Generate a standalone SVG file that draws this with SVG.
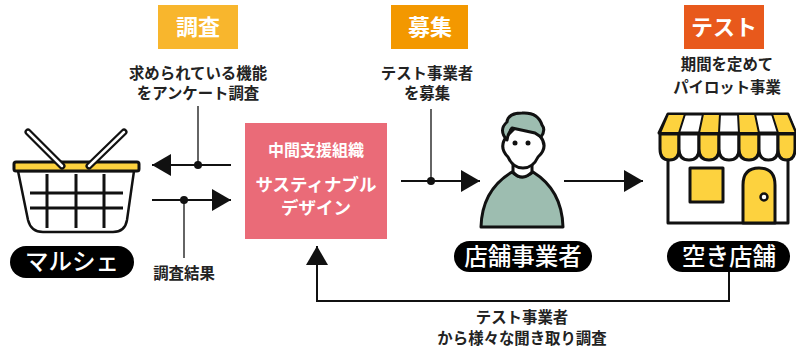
<svg xmlns="http://www.w3.org/2000/svg" width="796" height="350" viewBox="0 0 796 350">
<style>
text{font-family:"Noto Sans CJK JP","Noto Sans",sans-serif;text-anchor:middle}
.t{font-size:15.4px;font-weight:700;fill:#222}
.h{font-size:22px;font-weight:700;fill:#fff}
.p{font-size:23.5px;font-weight:500;fill:#fff}
.w{font-size:16px;font-weight:700;fill:#fff}
.d{font-size:17.5px;font-weight:700;fill:#fff}
.l{fill:none;stroke:#111;stroke-width:2}
.k{fill:none;stroke:#111;stroke-width:1.3}
.o{stroke:#111;stroke-width:3;stroke-linejoin:round}
</style>
<defs><marker id="a" markerUnits="userSpaceOnUse" markerWidth="20" markerHeight="22" refX="19" refY="11" orient="auto-start-reverse"><path d="M0 0L19 11L0 22Z" fill="#111"/></marker></defs>
<rect width="796" height="350" fill="#fff"/>
<g id="connectors">
<path class="l" d="M231 165H152" marker-end="url(#a)"/>
<path class="k" d="M198 106V165"/><circle cx="198" cy="165" r="4" fill="#111"/>
<path class="l" d="M152 200H231" marker-end="url(#a)"/>
<path class="k" d="M184 200V258"/><circle cx="184" cy="200" r="4" fill="#111"/>
<path class="l" d="M401 181H480" marker-end="url(#a)"/>
<path class="k" d="M431 109V181"/><circle cx="431" cy="181" r="4" fill="#111"/>
<path class="l" d="M564 181H643" marker-end="url(#a)"/>
<path class="l" d="M729 272V301H317V246" marker-end="url(#a)"/>
</g>
<g id="chosa"><rect x="158" y="5" width="80" height="44" fill="#f8b62d"/><text class="h" x="198" y="35">調査</text></g>
<g id="boshu"><rect x="391" y="5" width="77" height="44" fill="#f39800"/><text class="h" x="430" y="35">募集</text></g>
<g id="test"><rect x="684" y="5" width="80" height="44" fill="#e8591c"/><text class="h" x="724" y="35">テスト</text></g>
<g id="label-chosa"><text class="t" x="198" y="79">求められている機能</text><text class="t" x="198" y="99">をアンケート調査</text></g>
<g id="label-boshu"><text class="t" x="427" y="79">テスト事業者</text><text class="t" x="427" y="99">を募集</text></g>
<g id="label-test"><text class="t" x="727" y="70">期間を定めて</text><text class="t" x="727" y="93">パイロット事業</text></g>
<g id="label-kekka"><text class="t" x="184" y="279">調査結果</text></g>
<g id="label-kikitori"><text class="t" x="522" y="323">テスト事業者</text><text class="t" x="522" y="344">から様々な聞き取り調査</text></g>
<g id="support"><rect x="245" y="123" width="142" height="116" fill="#ea6b78"/><text class="w" x="316" y="156">中間支援組織</text><text class="d" x="316" y="191">サスティナブル</text><text class="d" x="316" y="214">デザイン</text></g>
<g id="marche">
<path d="M18 171L28 220Q31 232 43 232H113Q125 232 127 220L134 171Z" fill="#fff" stroke="#111" stroke-width="2.5"/>
<path d="M47 174V228M76 174V228M104 174V228M30 193H123M30 208H123" stroke="#111" stroke-width="3" fill="none"/>
<rect x="14" y="162" width="125" height="9" rx="2" fill="#fdd23e" class="o"/>
<path d="M28 132L62 166" stroke="#111" stroke-width="7" stroke-linecap="round"/><path d="M28 132L62 166" stroke="#fff" stroke-width="2.5" stroke-linecap="round"/>
<path d="M124 132L89 166" stroke="#111" stroke-width="7" stroke-linecap="round"/><path d="M124 132L89 166" stroke="#fff" stroke-width="2.5" stroke-linecap="round"/>
<rect x="10" y="246" width="124" height="32" rx="16" fill="#000"/><text class="p" x="72" y="270">マルシェ</text>
</g>
<g id="owner">
<path d="M481 227Q482 190 512 172Q522 182 533 172Q562 190 563 227Z" fill="#9dbdb0" class="o"/>
<path d="M513 164V172Q522 182 532 172V164Z" fill="#fff" class="o"/>
<path d="M507 136Q498 147 508 157Q513 168 523 168Q533 168 538 157Q549 147 540 136L523 120Z" fill="#fff" class="o"/>
<path d="M507 140Q498 130 507 122Q508 113 522 113Q538 112 542 125Q546 130 541 137L535 133L512 128Q508 133 507 140Z" fill="#9dbdb0" class="o"/>
<circle cx="515" cy="143" r="2.5" fill="#111"/><circle cx="528" cy="143" r="2.5" fill="#111"/>
<rect x="454" y="241" width="138" height="31" rx="15.5" fill="#000"/><text class="p" x="523" y="265">店舗事業者</text>
</g>
<g id="shop">
<rect x="668" y="150" width="120" height="73" fill="#fff" class="o"/>
<path d="M668 114H788L796 133H659Z" fill="#fff" class="o"/>
<path d="M668 114H685L679 133H660ZM703 114H720L719 133H699ZM738 114H755L759 133H739ZM772 114H788L796 133H778Z" fill="#fdd23e" stroke="#111" stroke-width="2"/>
<path d="M660 134V149Q660 160 669.500 160Q679 160 679 149V134Z" fill="#fdd23e" class="o"/>
<path d="M679 134V149Q679 160 689 160Q699 160 699 149V134Z" fill="#fff" class="o"/>
<path d="M699 134V149Q699 160 709 160Q719 160 719 149V134Z" fill="#fdd23e" class="o"/>
<path d="M719 134V149Q719 160 729 160Q739 160 739 149V134Z" fill="#fff" class="o"/>
<path d="M739 134V149Q739 160 749 160Q759 160 759 149V134Z" fill="#fdd23e" class="o"/>
<path d="M759 134V149Q759 160 768.500 160Q778 160 778 149V134Z" fill="#fff" class="o"/>
<path d="M778 134V149Q778 160 786.500 160Q795 160 795 149V134Z" fill="#fdd23e" class="o"/>
<rect x="690" y="168" width="33" height="34" fill="#fdd23e" class="o"/>
<path d="M743 223V185Q743 168 759 168Q775 168 775 185V223Z" fill="#fdd23e" class="o"/>
<circle cx="764" cy="197" r="3.500" fill="#fff" stroke="#111" stroke-width="2.500"/>
<rect x="667" y="241" width="123" height="31" rx="15.500" fill="#000"/><text class="p" x="729" y="265">空き店舗</text>
</g>
</svg>
